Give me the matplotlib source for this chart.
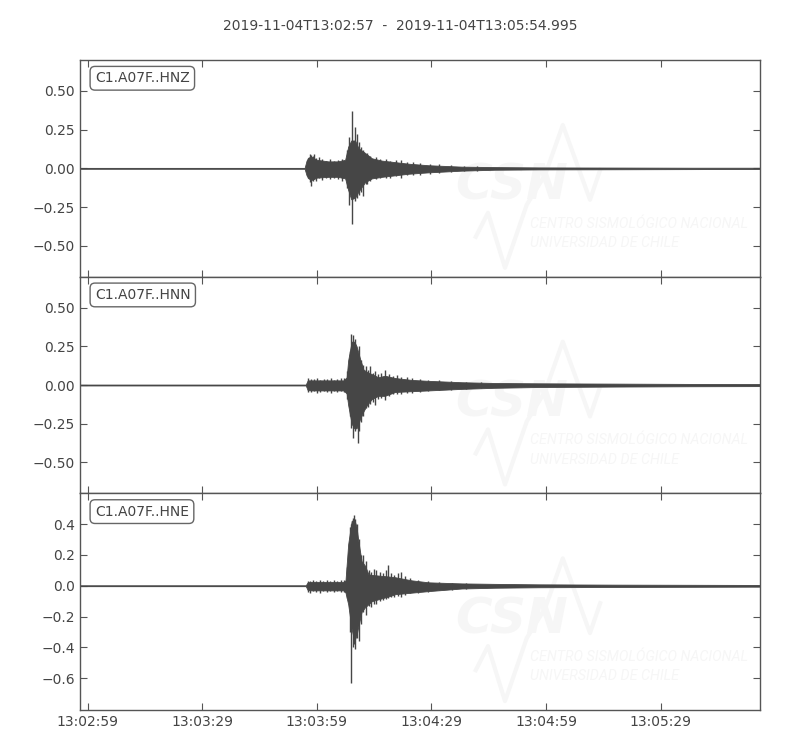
import numpy as np
import matplotlib
matplotlib.use("Agg")
import matplotlib.pyplot as plt

# seconds after 2019-11-04T13:02:57
t_end = 177.995
title = "2019-11-04T13:02:57  -  2019-11-04T13:05:54.995"
x_ticks = [2, 32, 62, 92, 122, 152]
x_tick_labels = ["13:02:59", "13:03:29", "13:03:59", "13:04:29", "13:04:59", "13:05:29"]

channels = ["C1.A07F..HNZ", "C1.A07F..HNN", "C1.A07F..HNE"]

# envelope (time, upper, lower)
z_t = [0, 58.8, 59.3, 59.8, 60.6, 62, 65, 67.5, 69.4, 70.2, 71.0, 72.0, 72.9, 74.6, 76.4,
       79, 82.5, 86, 91.2, 99.9, 108.6, 120, 140, 160, 178]
z_up = [0.003, 0.003, 0.05, 0.07, 0.075, 0.055, 0.045, 0.045, 0.055, 0.14, 0.18, 0.18, 0.13, 0.1,
        0.065, 0.05, 0.04, 0.03, 0.02, 0.011, 0.008, 0.006, 0.005, 0.004, 0.004]
z_lo = [-0.003, -0.003, -0.045, -0.065, -0.075, -0.06, -0.055, -0.055, -0.065, -0.14, -0.2, -0.19,
        -0.15, -0.09, -0.065, -0.055, -0.045, -0.035, -0.026, -0.015, -0.009, -0.007, -0.006,
        -0.005, -0.004]
z_spk_t = [59.6, 60.2, 60.5, 61.0, 61.3, 61.9, 62.5, 63.4, 64.4, 65.5, 66.4, 67.6, 68.6, 69.8,
           70.5, 71.3, 72.0, 72.6, 73.1, 73.5, 74.2, 74.8, 75.2, 76.0, 77.5, 78.6, 80.0, 81.2,
           82.6, 84.0, 85.5, 87.2, 89.0, 91.5, 94.0, 97.0, 100.5, 104.0]
z_spk_up = [0.07, 0.09, 0.085, 0.08, 0.09, 0.07, 0.075, 0.06, 0.05, 0.06, 0.05, 0.055, 0.06,
            0.12, 0.2, 0.372, 0.264, 0.22, 0.17, 0.14, 0.12, 0.09, 0.1, 0.08, 0.075, 0.06, 0.06,
            0.05, 0.055, 0.055, 0.04, 0.04, 0.035, 0.03, 0.025, 0.02, 0.016, 0.013]
z_spk_lo = [-0.06, -0.09, -0.116, -0.08, -0.07, -0.08, -0.065, -0.075, -0.065, -0.07, -0.06,
            -0.07, -0.08, -0.13, -0.24, -0.36, -0.213, -0.19, -0.17, -0.15, -0.18, -0.1, -0.1,
            -0.08, -0.07, -0.065, -0.06, -0.065, -0.05, -0.06, -0.045, -0.045, -0.04, -0.035,
            -0.03, -0.025, -0.02, -0.015]

n_t = [0, 59.1, 59.6, 60.5, 65, 69.0, 69.8, 70.2, 71.1, 71.8, 72.4, 73.3, 74.2, 75.1, 76.4,
       78.1, 79.8, 82.5, 86.8, 91.2, 99.9, 108.6, 120, 140, 160, 178]
n_up = [0.003, 0.003, 0.03, 0.03, 0.03, 0.03, 0.05, 0.16, 0.28, 0.28, 0.25, 0.17, 0.1, 0.085,
        0.07, 0.05, 0.06, 0.045, 0.033, 0.027, 0.018, 0.013, 0.011, 0.009, 0.007, 0.006]
n_lo = [-0.003, -0.003, -0.033, -0.035, -0.035, -0.035, -0.055, -0.13, -0.25, -0.28, -0.28,
        -0.22, -0.17, -0.13, -0.09, -0.07, -0.07, -0.045, -0.04, -0.035, -0.025, -0.018, -0.013,
        -0.01, -0.008, -0.007]
n_spk_t = [59.8, 60.4, 61.2, 62.0, 62.9, 63.8, 64.7, 65.6, 66.5, 67.4, 68.3, 69.2, 70.0, 70.6,
           71.0, 71.5, 72.0, 72.8, 73.0, 73.6, 74.2, 74.8, 75.5, 76.0, 76.7, 77.2, 78.0, 78.8,
           79.8, 80.8, 81.8, 83.0, 84.0, 85.5, 87.0, 89.0, 91.0, 94.0, 97.0, 101.0, 105.0]
n_spk_up = [0.045, 0.04, 0.04, 0.045, 0.035, 0.04, 0.04, 0.045, 0.035, 0.04, 0.045, 0.045, 0.09,
            0.22, 0.33, 0.32, 0.3, 0.2, 0.25, 0.16, 0.13, 0.12, 0.1, 0.12, 0.08, 0.09, 0.07,
            0.075, 0.1, 0.07, 0.06, 0.065, 0.05, 0.05, 0.045, 0.04, 0.035, 0.03, 0.028, 0.022,
            0.018]
n_spk_lo = [-0.048, -0.045, -0.04, -0.05, -0.045, -0.04, -0.045, -0.05, -0.04, -0.045, -0.04,
            -0.045, -0.09, -0.2, -0.28, -0.34, -0.3, -0.372, -0.3, -0.24, -0.2, -0.15, -0.14,
            -0.12, -0.11, -0.13, -0.09, -0.085, -0.1, -0.07, -0.06, -0.06, -0.06, -0.05, -0.05,
            -0.045, -0.04, -0.035, -0.03, -0.025, -0.02]

e_t = [0, 59.1, 59.6, 60.5, 65, 69.0, 69.5, 70.2, 71.1, 71.8, 72.4, 72.8, 73.7, 74.6, 75.5,
       76.4, 80.7, 82.5, 86.8, 91.2, 99.9, 108.6, 120, 140, 160, 178]
e_up = [0.003, 0.003, 0.022, 0.025, 0.025, 0.025, 0.035, 0.27, 0.42, 0.43, 0.38, 0.3, 0.16,
        0.13, 0.075, 0.07, 0.06, 0.055, 0.035, 0.022, 0.015, 0.012, 0.009, 0.007, 0.006, 0.005]
e_lo = [-0.003, -0.003, -0.028, -0.03, -0.03, -0.03, -0.045, -0.12, -0.28, -0.36, -0.32,
        -0.27, -0.17, -0.14, -0.12, -0.1, -0.07, -0.055, -0.045, -0.035, -0.018, -0.013, -0.01,
        -0.008, -0.007, -0.006]
e_spk_t = [59.8, 60.2, 61.0, 61.9, 62.8, 63.7, 64.6, 65.5, 66.4, 67.3, 68.2, 69.1, 70.0, 70.6,
           71.0, 71.4, 71.7, 72.1, 72.4, 73.0, 73.5, 74.2, 74.9, 75.6, 76.3, 77.0, 77.5, 78.5,
           79.3, 80.0, 80.7, 81.5, 82.3, 83.2, 84.0, 85.0, 86.5, 88.5, 91.0, 94.0, 97.5, 101.0]
e_spk_up = [0.03, 0.03, 0.035, 0.03, 0.035, 0.03, 0.035, 0.03, 0.035, 0.03, 0.035, 0.04, 0.12,
            0.38, 0.4, 0.44, 0.46, 0.43, 0.4, 0.3, 0.2, 0.2, 0.16, 0.1, 0.09, 0.11, 0.1, 0.09,
            0.08, 0.1, 0.133, 0.08, 0.07, 0.08, 0.086, 0.06, 0.05, 0.04, 0.03, 0.025, 0.02, 0.018]
e_spk_lo = [-0.04, -0.045, -0.035, -0.04, -0.045, -0.035, -0.04, -0.035, -0.04, -0.035, -0.04,
            -0.04, -0.08, -0.3, -0.634, -0.4, -0.38, -0.41, -0.34, -0.36, -0.25, -0.17, -0.19,
            -0.13, -0.14, -0.12, -0.12, -0.1, -0.09, -0.085, -0.08, -0.075, -0.07, -0.065, -0.07,
            -0.06, -0.05, -0.045, -0.04, -0.03, -0.025, -0.02]

envelopes = [(z_t, z_up, z_lo, z_spk_t, z_spk_up, z_spk_lo),
             (n_t, n_up, n_lo, n_spk_t, n_spk_up, n_spk_lo),
             (e_t, e_up, e_lo, e_spk_t, e_spk_up, e_spk_lo)]

y_ticks = [[-0.5, -0.25, 0, 0.25, 0.5], [-0.5, -0.25, 0, 0.25, 0.5],
           [-0.6, -0.4, -0.2, 0, 0.2, 0.4]]
y_fmt = ["%.2f", "%.2f", "%.1f"]
y_lims = [(-0.70, 0.70), (-0.70, 0.70), (-0.806, 0.599)]

col = "#464646"
txt = "#444444"
wm = "#f6f6f6"
plt.rcParams['font.family'] = ['DejaVu Sans']

fig, axes = plt.subplots(3, 1, figsize=(8, 7.5), dpi=100, sharex=True)
fig.subplots_adjust(left=0.1, right=0.95, top=0.92, bottom=0.0533, hspace=0)

for i, ax in enumerate(axes):
    t, up, lo, st, su, sl = envelopes[i]

    # faint CSN watermark
    ax.text(0.552, 0.42, "CSN", transform=ax.transAxes, fontsize=36, fontweight="bold",
            fontstyle="italic", color=wm, va="center", ha="left", zorder=0, clip_on=True)
    ax.text(0.662, 0.245, "CENTRO SISMOLÓGICO NACIONAL", transform=ax.transAxes,
            fontsize=10.3, fontstyle="italic", color=wm, va="center", ha="left",
            zorder=0, family="Roboto", clip_on=True)
    ax.text(0.662, 0.155, "UNIVERSIDAD DE CHILE", transform=ax.transAxes,
            fontsize=10.3, fontstyle="italic", color=wm, va="center", ha="left",
            zorder=0, family="Roboto", clip_on=True)
    ax.plot([0.582, 0.600, 0.625, 0.657, 0.684, 0.710, 0.75, 0.765],
            [0.184, 0.295, 0.041, 0.332, 0.47, 0.70, 0.355, 0.493],
            transform=ax.transAxes, color=wm, lw=3, zorder=0)

    ax.fill_between(t, lo, up, color=col, lw=0.6, zorder=2)
    ax.vlines(st, sl, su, color=col, lw=1.0, zorder=2)

    ax.set_ylim(*y_lims[i])
    ax.set_yticks(y_ticks[i])
    ax.set_yticklabels([(y_fmt[i] % v).replace("-", "\u2212") for v in y_ticks[i]])
    ax.set_xlim(0, t_end)
    ax.tick_params(direction="in", top=True, right=True, length=5, width=0.8,
                   colors="#555555", labelcolor=txt, labelsize=10)
    for s in ax.spines.values():
        s.set_color("#555555")
        s.set_linewidth(1.0)
    ax.text(0.022, 0.948, channels[i], transform=ax.transAxes, va="top", ha="left",
            fontsize=10, color=txt,
            bbox=dict(boxstyle="round,pad=0.35", fc="white", ec="#666666", lw=1.0))

axes[-1].set_xticks(x_ticks)
axes[-1].set_xticklabels(x_tick_labels)
fig.suptitle(title, y=0.975, fontsize=10, color=txt)

fig.savefig("out.png", dpi=100)
